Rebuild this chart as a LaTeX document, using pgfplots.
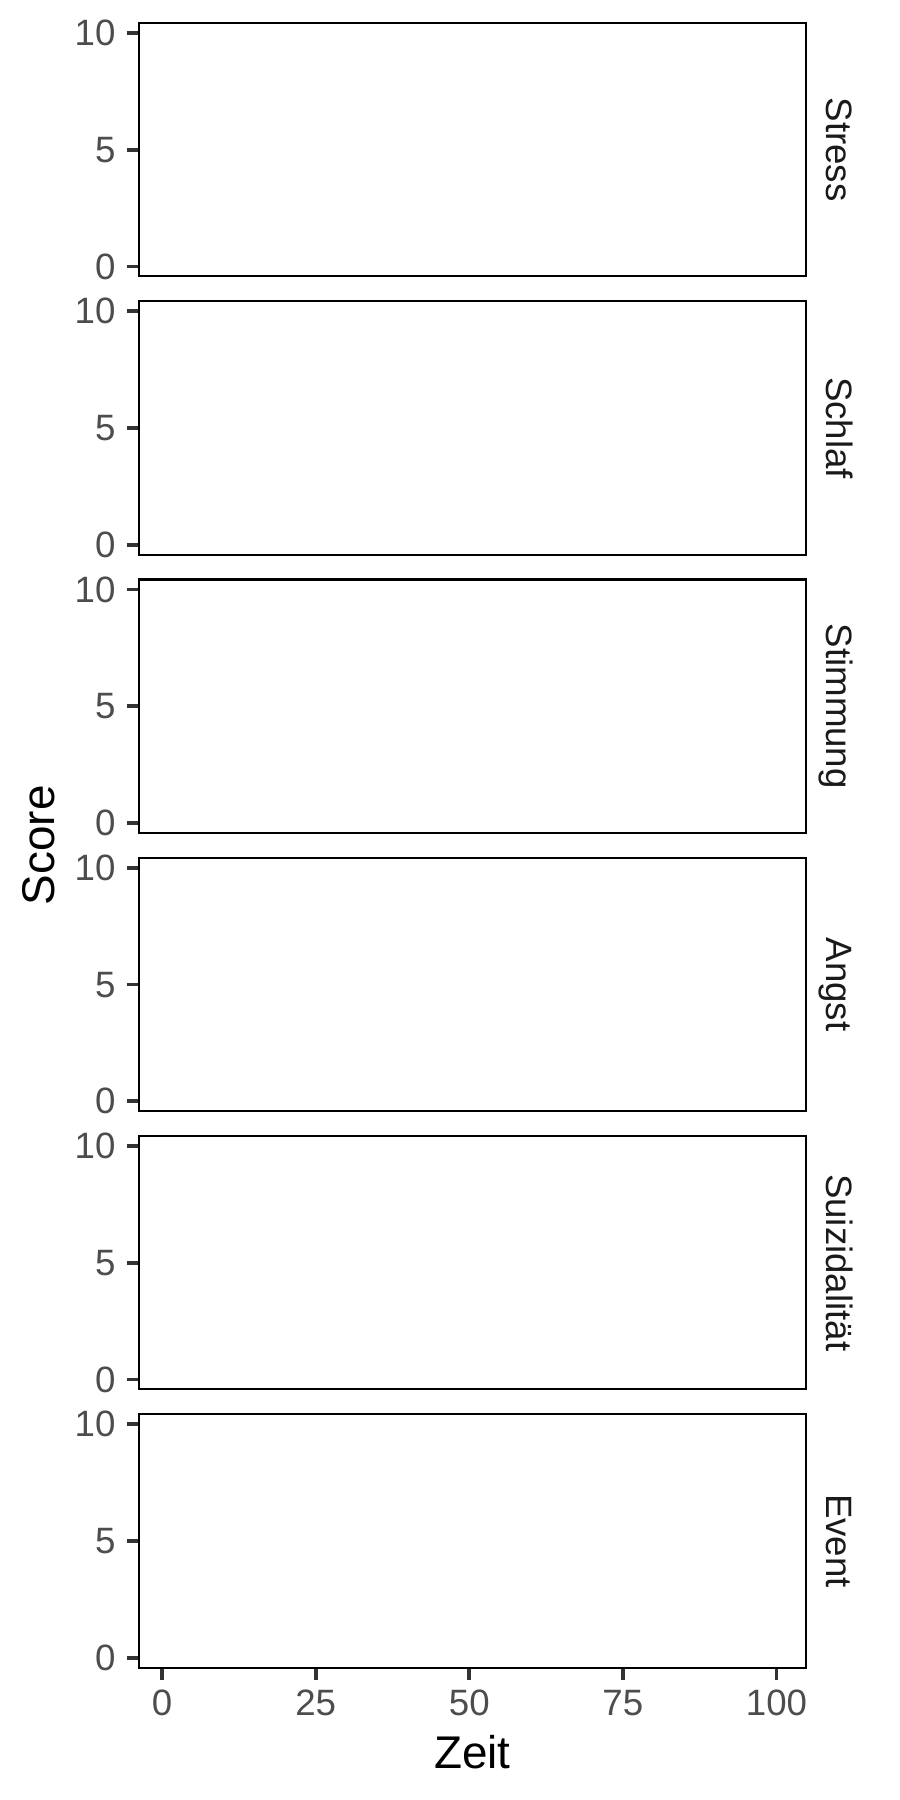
\documentclass[border=0pt]{standalone}
\usepackage{fontspec}
\setmainfont{Liberation Sans}
\usepackage{pgfplots}
\pgfplotsset{compat=1.18}
\definecolor{grey30}{HTML}{4D4D4D}
\definecolor{grey20}{HTML}{333333}
\definecolor{grey10}{HTML}{1A1A1A}
\tikzset{strip/.style={rotate=-90, anchor=base, font=\fontsize{8.8}{10}\selectfont, text=grey10}}
\pgfplotsset{
  panel/.style={
    scale only axis, width=160pt, height=60.82pt, anchor=south west,
    xmin=-3.75, xmax=104.75, ymin=-0.42, ymax=10.43,
    ytick={0,5,10}, xtick={0,25,50,75,100},
    tick align=outside, major tick length=2.85pt,
    ytick pos=left, xtick pos=bottom,
    axis line style={black, line width=0.5pt},
    tick style={grey20, line width=0.9pt},
    tick label style={font=\fontsize{8.8}{10}\selectfont, text=grey30},
    /pgf/number format/assume math mode=true,
    yticklabel style={anchor=east, inner ysep=0pt, inner xsep=2.6pt},
    xticklabel style={anchor=north, inner xsep=0pt, inner ysep=2.4pt},
    clip=false,
  },
}
\begin{document}
\begin{tikzpicture}
\fill[white] (0pt,0pt) rectangle (216pt,432pt);
\path[use as bounding box] (0pt,0pt) rectangle (216pt,432pt);

\begin{axis}[panel, at={(33.36pt,365.66pt)}, xmajorticks=false]
\node[strip] at (rel axis cs:1.0314,0.5) {Stress};
\end{axis}

\begin{axis}[panel, at={(33.36pt,298.88pt)}, xmajorticks=false]
\node[strip] at (rel axis cs:1.0314,0.5) {Schlaf};
\end{axis}

\begin{axis}[panel, at={(33.36pt,232.10pt)}, xmajorticks=false,
  ylabel={Score},
  ylabel style={at={(axis description cs:-0.126,-0.049)}, anchor=base, font=\fontsize{11}{13}\selectfont, text=black}]
\node[strip] at (rel axis cs:1.0314,0.5) {Stimmung};
\end{axis}

\begin{axis}[panel, at={(33.36pt,165.32pt)}, xmajorticks=false]
\node[strip] at (rel axis cs:1.0314,0.5) {Angst};
\end{axis}

\begin{axis}[panel, at={(33.36pt,98.54pt)}, xmajorticks=false]
\node[strip] at (rel axis cs:1.0314,0.5) {Suizidalität};
\end{axis}

\begin{axis}[panel, at={(33.36pt,31.76pt)},
  xlabel={Zeit},
  xlabel style={at={(axis description cs:0.5,-0.3963)}, anchor=base, font=\fontsize{11}{13}\selectfont, text=black}]
\node[strip] at (rel axis cs:1.0314,0.5) {Event};
\end{axis}
\end{tikzpicture}
\end{document}
